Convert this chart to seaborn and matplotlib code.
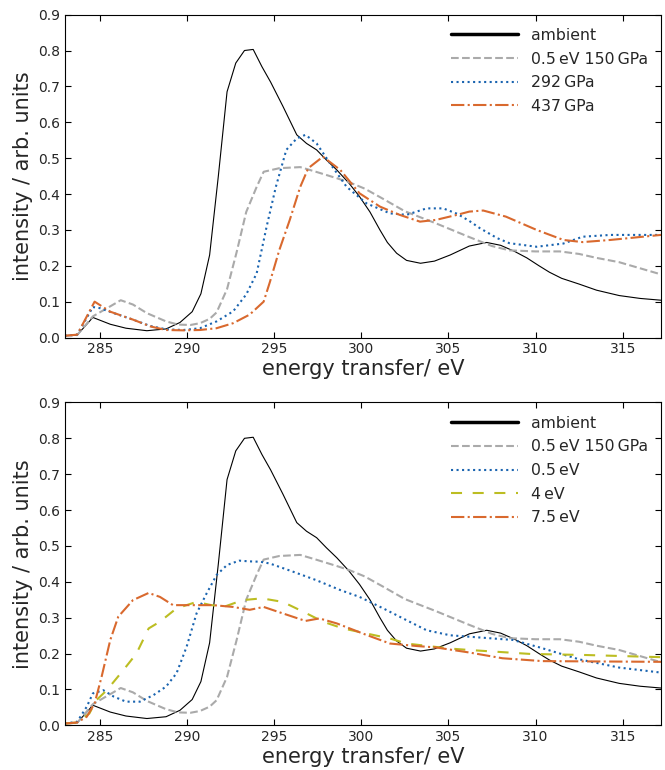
import numpy as np
import pandas as pd
import seaborn as sns
import matplotlib
matplotlib.use("Agg")
import matplotlib.pyplot as plt

# shared curves (both panels)
e_ambient = [283.0, 283.7, 284.6, 285.6, 286.5, 287.7, 288.8, 289.6, 290.3, 290.8,
             291.3, 291.8, 292.3, 292.8, 293.3, 293.8, 294.3, 294.8, 295.5, 296.3,
             296.86, 297.44, 298.0, 298.6, 299.3, 299.9, 300.5, 301.07, 301.5, 302.03,
             302.6, 303.4, 304.2, 305.1, 306.2, 307.2, 308.0, 308.8, 309.5, 310.2,
             310.8, 311.5, 312.5, 313.5, 314.8, 316.0, 317.2]
i_ambient = [0.005, 0.007, 0.056, 0.037, 0.026, 0.019, 0.024, 0.042, 0.072, 0.122,
             0.23, 0.45, 0.685, 0.765, 0.80, 0.803, 0.755, 0.712, 0.645, 0.565,
             0.541, 0.523, 0.495, 0.467, 0.43, 0.393, 0.35, 0.30, 0.265, 0.235,
             0.215, 0.207, 0.213, 0.23, 0.255, 0.265, 0.257, 0.24, 0.222, 0.20,
             0.182, 0.165, 0.149, 0.132, 0.117, 0.109, 0.104]

e_150 = [283.0, 283.7, 284.6, 285.6, 286.2, 286.9, 287.7, 288.8, 289.5, 290.2,
         290.75, 291.3, 291.7, 292.3, 292.85, 293.4, 294.0, 294.4, 295.3, 296.5,
         297.4, 298.6, 299.35, 300.2, 301.2, 302.5, 304.3, 306.2, 307.5, 308.5,
         310.0, 311.4, 312.5, 313.5, 314.8, 316.0, 317.2]
i_150 = [0.005, 0.007, 0.059, 0.087, 0.104, 0.092, 0.068, 0.045, 0.036, 0.035,
         0.04, 0.052, 0.07, 0.135, 0.238, 0.35, 0.42, 0.462, 0.472, 0.475,
         0.462, 0.444, 0.432, 0.415, 0.388, 0.352, 0.318, 0.28, 0.255, 0.243,
         0.24, 0.24, 0.233, 0.222, 0.21, 0.193, 0.176]

# top panel
e_292 = [283.0, 283.7, 284.6, 285.0, 285.8, 286.9, 287.9, 288.8, 289.8, 290.75,
         291.7, 292.65, 293.4, 294.0, 294.57, 295.1, 295.7, 296.3, 296.8, 297.44,
         298.2, 299.16, 300.3, 301.65, 302.6, 303.75, 304.7, 305.5, 306.2, 306.8,
         307.8, 308.5, 310.06, 311.6, 312.7, 314.3, 317.2]
i_292 = [0.005, 0.008, 0.085, 0.082, 0.068, 0.05, 0.032, 0.023, 0.021, 0.026,
         0.045, 0.073, 0.12, 0.179, 0.309, 0.42, 0.523, 0.555, 0.565, 0.541,
         0.486, 0.42, 0.374, 0.346, 0.342, 0.36, 0.36, 0.345, 0.325, 0.305,
         0.277, 0.263, 0.253, 0.262, 0.281, 0.286, 0.286]

e_437 = [283.0, 283.7, 284.7, 285.6, 286.9, 287.9, 288.8, 289.8, 290.75, 291.7,
         292.65, 293.6, 294.4, 294.76, 295.3, 295.9, 296.5, 296.96, 297.8, 298.8,
         299.9, 301.07, 302.2, 303.37, 304.3, 305.5, 306.2, 307.0, 308.3, 310.06,
         311.6, 312.7, 314.3, 317.2]
i_437 = [0.005, 0.008, 0.10, 0.072, 0.05, 0.031, 0.021, 0.02, 0.021, 0.026,
         0.04, 0.064, 0.10, 0.155, 0.244, 0.328, 0.42, 0.472, 0.504, 0.467,
         0.402, 0.365, 0.342, 0.323, 0.328, 0.342, 0.351, 0.354, 0.337, 0.30,
         0.272, 0.266, 0.272, 0.286]

# bottom panel
e_05 = [283.0, 283.7, 284.25, 284.6, 285.2, 285.8, 286.5, 287.3, 288.07, 288.8,
        289.4, 289.98, 290.55, 291.13, 291.7, 292.3, 293.0, 293.6, 294.2, 294.76,
        296.1, 297.4, 298.8, 299.9, 301.26, 302.6, 303.75, 305.1, 306.2, 308.7,
        310.25, 312.5, 314.8, 317.2]
i_05 = [0.005, 0.01, 0.052, 0.089, 0.098, 0.08, 0.066, 0.066, 0.084, 0.108,
        0.145, 0.219, 0.312, 0.368, 0.419, 0.447, 0.459, 0.457, 0.456, 0.451,
        0.428, 0.405, 0.377, 0.358, 0.326, 0.293, 0.265, 0.251, 0.247, 0.238,
        0.217, 0.184, 0.161, 0.147]

e_4 = [283.0, 283.7, 284.4, 284.8, 285.4, 286.35, 287.1, 287.8, 288.45, 289.4,
       290.55, 291.3, 292.1, 293.2, 294.3, 295.5, 296.7, 297.8, 298.96, 300.3,
       301.65, 302.6, 305.1, 306.2, 309.7, 312.9, 317.2]
i_4 = [0.005, 0.008, 0.033, 0.07, 0.098, 0.154, 0.2, 0.27, 0.289, 0.326,
       0.344, 0.336, 0.33, 0.349, 0.354, 0.344, 0.316, 0.289, 0.27, 0.256,
       0.242, 0.228, 0.214, 0.21, 0.199, 0.196, 0.19]

e_75 = [283.0, 283.7, 284.25, 284.7, 285.1, 285.6, 286.06, 286.9, 287.8, 288.45,
        289.2, 290.0, 291.5, 292.65, 293.6, 294.4, 295.5, 296.8, 297.6, 298.6,
        300.3, 301.65, 303.2, 304.3, 306.2, 308.1, 310.4, 317.2]
i_75 = [0.005, 0.008, 0.024, 0.061, 0.135, 0.238, 0.303, 0.349, 0.369, 0.358,
        0.335, 0.335, 0.335, 0.33, 0.322, 0.33, 0.312, 0.291, 0.298, 0.284,
        0.252, 0.228, 0.221, 0.217, 0.203, 0.187, 0.179, 0.177]

GRAY = "#aaaaaa"
BLUE = "#1a64b0"
ORANGE = "#d9692e"
OLIVE = "#bcbd22"

sns.set_style("ticks")
plt.rcParams['font.family'] = ['DejaVu Sans']

fig, (ax1, ax2) = plt.subplots(2, 1, figsize=(6.65, 7.7), dpi=100)
fig.subplots_adjust(left=0.0977, right=0.994, top=0.981, bottom=0.058, hspace=0.201)


def draw(ax, x, y, label, **kw):
    sns.lineplot(x=x, y=y, ax=ax, label=label, **kw)


def style(ax):
    ax.set_xlim(283, 317.2)
    ax.set_ylim(0, 0.9)
    ax.set_xticks(np.arange(285, 316, 5))
    ax.set_yticks(np.arange(0, 0.91, 0.1))
    ax.set_yticklabels([f"{v:.1f}" for v in np.arange(0, 0.91, 0.1)])
    ax.tick_params(direction='in', top=True, right=True, labelsize=10, length=4, color='black')
    for s in ax.spines.values():
        s.set_visible(True)
        s.set_color('black')
        s.set_linewidth(0.8)
    ax.set_xlabel("energy transfer/ eV", fontsize=15, labelpad=2)
    ax.set_ylabel("intensity / arb. units", fontsize=15, labelpad=4)
    leg = ax.legend(loc='upper right', frameon=False, fontsize=11.3, handlelength=4.3,
                    handletextpad=0.8, labelspacing=0.55, borderaxespad=0.45)
    leg.legend_handles[0].set_linewidth(2.5)


# top
draw(ax1, e_ambient, i_ambient, "ambient", color='black', lw=0.8)
draw(ax1, e_150, i_150, "0.5\u2009eV 150\u2009GPa", color=GRAY, lw=1.5, ls='--')
draw(ax1, e_292, i_292, "292\u2009GPa", color=BLUE, lw=1.5, ls=':')
draw(ax1, e_437, i_437, "437\u2009GPa", color=ORANGE, lw=1.5, ls='-.')
style(ax1)

# bottom
draw(ax2, e_ambient, i_ambient, "ambient", color='black', lw=0.8)
draw(ax2, e_150, i_150, "0.5\u2009eV 150\u2009GPa", color=GRAY, lw=1.5, ls='--')
draw(ax2, e_05, i_05, "0.5\u2009eV", color=BLUE, lw=1.5, ls=':')
draw(ax2, e_4, i_4, "4\u2009eV", color=OLIVE, lw=1.5, ls=(0, (5.3, 5.1)))
draw(ax2, e_75, i_75, "7.5\u2009eV", color=ORANGE, lw=1.5, ls='-.')
style(ax2)

fig.savefig("out.png", dpi=100)
